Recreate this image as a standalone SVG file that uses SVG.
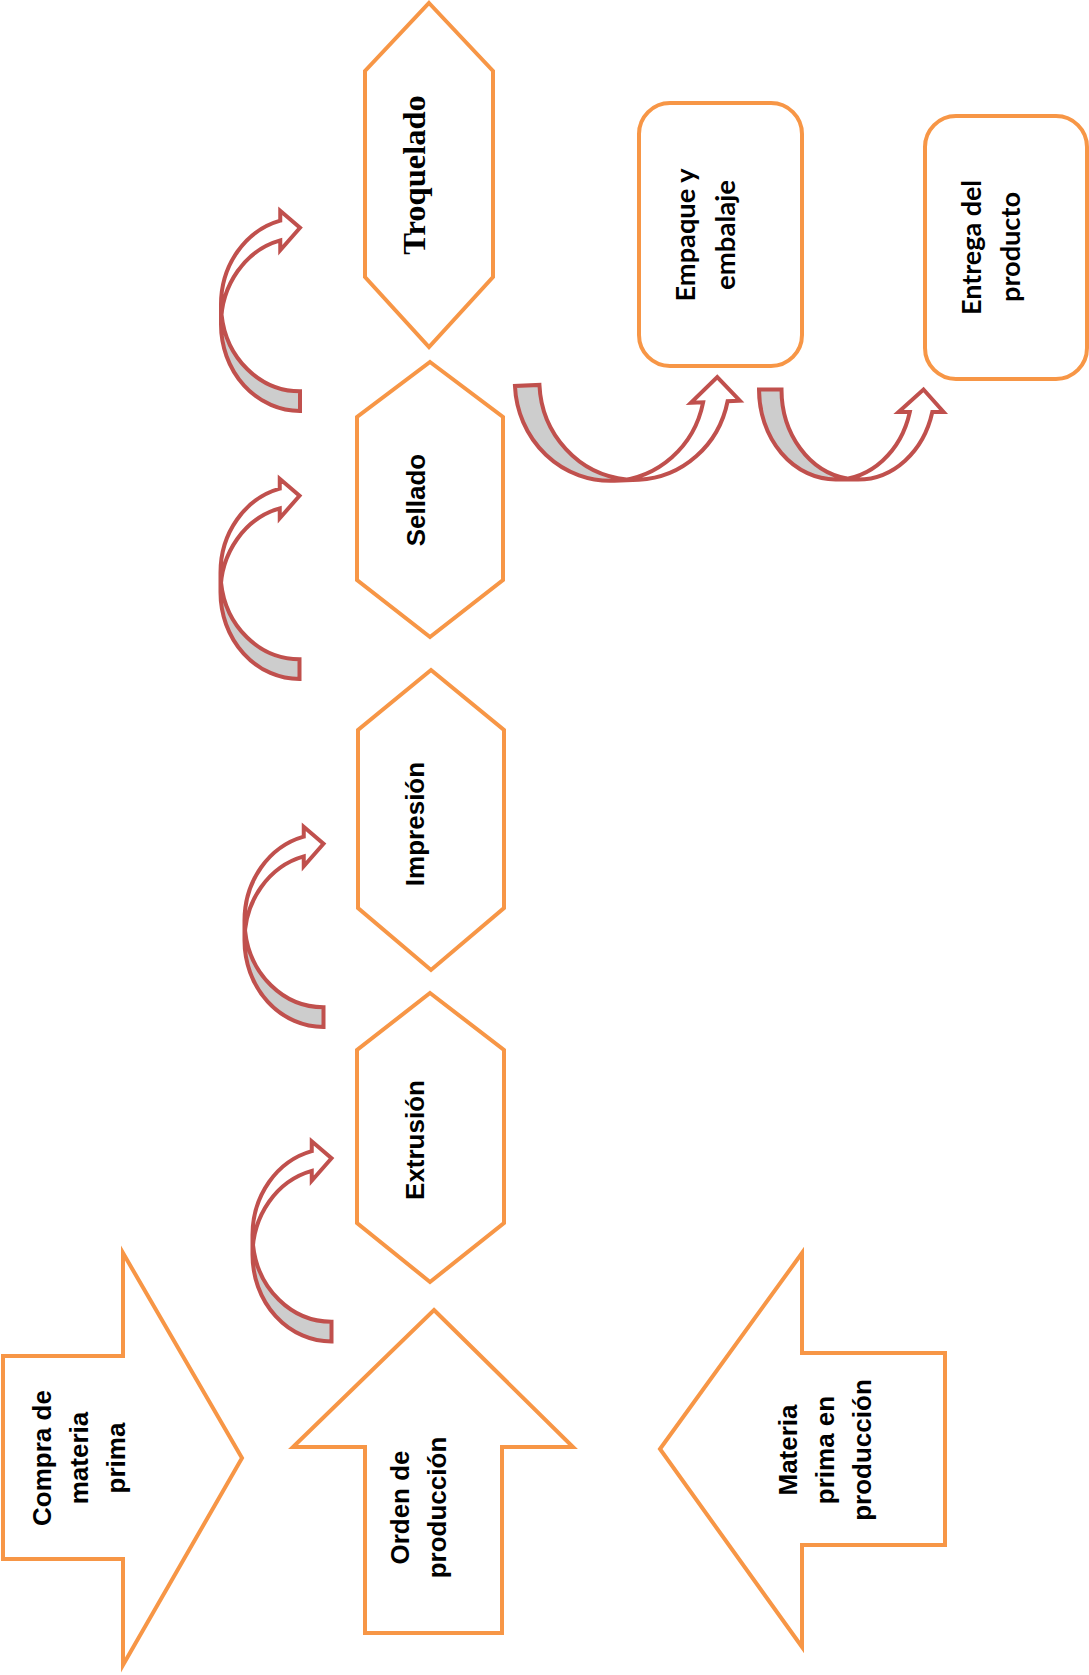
<svg xmlns="http://www.w3.org/2000/svg" xmlns:xlink="http://www.w3.org/1999/xlink" width="1089" height="1675" viewBox="0 0 1089 1675">
<style>
.node { fill: #ffffff; stroke: #F79646; stroke-width: 4; stroke-linejoin: miter; }
.lbl { font-family: "Liberation Sans", Arial, sans-serif; font-weight: bold; font-size: 26px; fill: #000000; text-anchor: middle; }
.lblc { font-family: Lato, "Open Sans", sans-serif; font-weight: bold; font-size: 27px; fill: #000000; text-anchor: middle; }
.lbls { font-family: "Liberation Serif", "Times New Roman", serif; font-weight: bold; font-size: 32.5px; fill: #000000; text-anchor: middle; }
.af { fill: #ffffff; stroke: none; }
.ad { fill: #CDCDCD; stroke: none; }
.as { fill: none; stroke: #C0504D; stroke-width: 4; stroke-linejoin: miter; }
</style>
<defs>
  <g id="cra">
    <path class="af" d="M-79,-86.69 A79,86.69 0 0 1 -19.75,-170.63 L-19.75,-160.75 L0,-183.25 L-19.75,-200.25 L-19.75,-190.38 A79,86.69 0 0 0 -79,-106.44 Z"/>
    <path class="ad" d="M0,-19.75 A79,86.69 0 0 1 -78.49,-96.57 L-79,-86.69 A79,86.69 0 0 0 0,0 Z"/>
    <path class="as" d="M-79,-86.69 A79,86.69 0 0 1 -19.75,-170.63 L-19.75,-160.75 L0,-183.25 L-19.75,-200.25 L-19.75,-190.38 A79,86.69 0 0 0 -79,-106.44 L-79,-86.69 A79,86.69 0 0 0 0,0 L0,-19.75 A79,86.69 0 0 1 -78.49,-96.57"/>
  </g>
</defs>
<rect x="0" y="0" width="1089" height="1675" fill="#ffffff"/>

<g id="connectors">
  <use xlink:href="#cra" href="#cra" transform="translate(300,411)"/>
  <use xlink:href="#cra" href="#cra" transform="translate(299.5,679)"/>
  <use xlink:href="#cra" href="#cra" transform="translate(323.5,1027)"/>
  <use xlink:href="#cra" href="#cra" transform="translate(331.5,1341.5)"/>
  <g id="arrow-sellado-empaque" transform="rotate(-2.5 630.5 430.5) translate(517,381)">
    <path class="af" d="M95.13,99 A95.13,99 0 0 0 187.29,24.5 L175.04,24.5 L202.5,0 L224.04,24.5 L211.79,24.5 A95.13,99 0 0 1 119.63,99 Z"/>
    <path class="ad" d="M24.5,0 A95.13,99 0 0 0 107.38,98.18 L95.13,99 A95.13,99 0 0 1 0,0 Z"/>
    <path class="as" d="M95.13,99 A95.13,99 0 0 0 187.29,24.5 L175.04,24.5 L202.5,0 L224.04,24.5 L211.79,24.5 A95.13,99 0 0 1 119.63,99 L95.13,99 A95.13,99 0 0 1 0,0 L24.5,0 A95.13,99 0 0 0 107.38,98.18"/>
  </g>
  <g id="arrow-empaque-entrega" transform="translate(759,389.5)">
    <path class="af" d="M76.63,90 A76.63,90 0 0 0 150.82,22.5 L139.57,22.5 L164.5,0 L184.57,22.5 L173.32,22.5 A76.63,90 0 0 1 99.13,90 Z"/>
    <path class="ad" d="M22.5,0 A76.63,90 0 0 0 87.88,89.03 L76.63,90 A76.63,90 0 0 1 0,0 Z"/>
    <path class="as" d="M76.63,90 A76.63,90 0 0 0 150.82,22.5 L139.57,22.5 L164.5,0 L184.57,22.5 L173.32,22.5 A76.63,90 0 0 1 99.13,90 L76.63,90 A76.63,90 0 0 1 0,0 L22.5,0 A76.63,90 0 0 0 87.88,89.03"/>
  </g>
</g>

<g id="troquelado">
  <polygon class="node" points="429,3 493,71 493,277 429,347 365,277 365,71"/>
  <text class="lbls" transform="rotate(-90)"><tspan x="-175" y="425">Troquelado</tspan></text>
</g>
<g id="sellado">
  <polygon class="node" points="430,362 503,417 503,580 430,637 357,580 357,417"/>
  <text class="lbl" transform="rotate(-90)"><tspan x="-500" y="424.5">Sellado</tspan></text>
</g>
<g id="impresion">
  <polygon class="node" points="431,670 504,730 504,908 431,970 358,908 358,730"/>
  <text class="lbl" transform="rotate(-90)"><tspan x="-824" y="424">Impresión</tspan></text>
</g>
<g id="extrusion">
  <polygon class="node" points="430,993 504,1050 504,1223 430,1282 357,1223 357,1050"/>
  <text class="lbl" transform="rotate(-90)"><tspan x="-1140" y="424">Extrusión</tspan></text>
</g>
<g id="orden">
  <polygon class="node" points="434,1310 573,1447 502,1447 502,1633 365,1633 365,1447 293,1447"/>
  <text class="lbl" transform="rotate(-90)"><tspan x="-1507.5" y="409">Orden de</tspan><tspan x="-1507.5" y="446">producción</tspan></text>
</g>
<g id="compra">
  <polygon class="node" points="3,1356 123,1356 123,1253 242,1458 123,1665 123,1559 3,1559"/>
  <text class="lbl" transform="rotate(-90)"><tspan x="-1458" y="51">Compra de</tspan><tspan x="-1458" y="88">materia</tspan><tspan x="-1458" y="125">prima</tspan></text>
</g>
<g id="materia">
  <polygon class="node" points="660,1449 802,1253 802,1353 945,1353 945,1545 802,1545 802,1647"/>
  <text class="lbl" transform="rotate(-90)"><tspan x="-1450" y="797">Materia</tspan><tspan x="-1450" y="834">prima en</tspan><tspan x="-1450" y="871">producción</tspan></text>
</g>
<g id="empaque">
  <rect class="node" x="639" y="103" width="163" height="263" rx="31" ry="31"/>
  <text class="lblc" transform="rotate(-90)"><tspan x="-235" y="694.5" textLength="133" lengthAdjust="spacingAndGlyphs">Empaque y</tspan><tspan x="-235" y="735" textLength="110" lengthAdjust="spacingAndGlyphs">embalaje</tspan></text>
</g>
<g id="entrega">
  <rect class="node" x="925" y="116" width="162" height="263" rx="31" ry="31"/>
  <text class="lblc" transform="rotate(-90)"><tspan x="-247.5" y="981" textLength="135" lengthAdjust="spacingAndGlyphs">Entrega del</tspan><tspan x="-247" y="1020" textLength="110" lengthAdjust="spacingAndGlyphs">producto</tspan></text>
</g>
</svg>
